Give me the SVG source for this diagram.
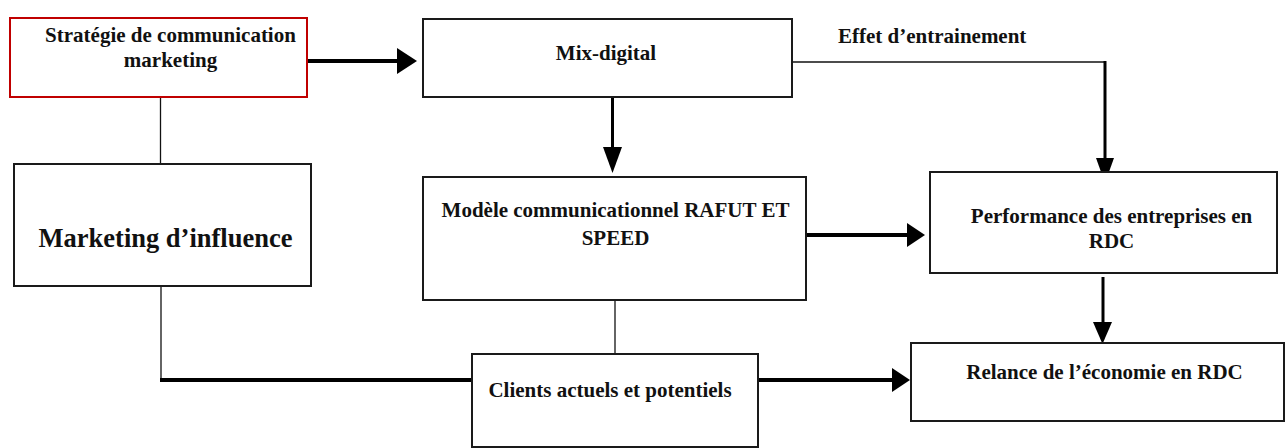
<svg xmlns="http://www.w3.org/2000/svg" width="1285" height="448" viewBox="0 0 1285 448">
<style>
.box{fill:#fff;stroke:#1a1a1a;stroke-width:2}
.red{fill:#fff;stroke:#c00000;stroke-width:2}
.t{font-family:"Liberation Serif","Times New Roman",serif;font-weight:bold;font-size:21px;fill:#111;text-anchor:middle}
.big{font-size:26.5px}
.thin{fill:none;stroke:#111;stroke-width:1.3}
.thick{fill:none;stroke:#000;stroke-width:4}
.mid{fill:none;stroke:#000;stroke-width:3}
.head{fill:#000}
</style>
<rect width="1285" height="448" fill="#fff"/>
<g id="connectors">
<line class="thick" x1="308" y1="61" x2="399" y2="61"/>
<polygon class="head" points="397,48 417,61 397,74"/>
<line class="mid" x1="612.5" y1="97" x2="612.5" y2="149"/>
<polygon class="head" points="603,147 622,147 612.5,173"/>
<polyline class="thin" points="792,62 1105,62"/>
<line class="mid" x1="1105" y1="61" x2="1105" y2="160"/>
<polygon class="head" points="1096,158 1114,158 1105,183"/>
<line class="thick" x1="807" y1="235" x2="909" y2="235"/>
<polygon class="head" points="907,223 925,235 907,247"/>
<line class="mid" x1="1103" y1="277" x2="1103" y2="324"/>
<polygon class="head" points="1093,322 1112,322 1102.5,344"/>
<line class="thick" x1="758" y1="380" x2="894" y2="380"/>
<polygon class="head" points="892,368 910,380 892,392"/>
<line class="thin" x1="160.5" y1="97" x2="160.5" y2="164"/>
<polyline class="thin" points="161,286 161,380"/>
<line class="thick" x1="160" y1="380" x2="472" y2="380"/>
<line class="thin" x1="615" y1="300" x2="615" y2="354"/>
</g>
<g id="n-strategie">
<rect class="red" x="10" y="18" width="297" height="79"/>
<text class="t" x="170.5" y="42">Stratégie de communication</text>
<text class="t" x="170.5" y="67">marketing</text>
</g>
<g id="n-mix">
<rect class="box" x="423" y="19" width="369" height="78"/>
<text class="t" x="606" y="60">Mix-digital</text>
</g>
<g id="n-influence">
<rect class="box" x="14" y="164" width="297" height="122"/>
<text class="t big" x="165.5" y="247">Marketing d’influence</text>
</g>
<g id="n-modele">
<rect class="box" x="423" y="177" width="383" height="123"/>
<text class="t" x="615.5" y="217">Modèle communicationnel RAFUT ET</text>
<text class="t" x="615.5" y="245">SPEED</text>
</g>
<g id="n-performance">
<rect class="box" x="930" y="172" width="347" height="101"/>
<text class="t" x="1111.5" y="223">Performance des entreprises en</text>
<text class="t" x="1111.5" y="248">RDC</text>
</g>
<g id="n-clients">
<rect class="box" x="472" y="354" width="286" height="93"/>
<text class="t" x="610" y="397">Clients actuels et potentiels</text>
</g>
<g id="n-relance">
<rect class="box" x="911" y="343" width="373" height="78"/>
<text class="t" x="1104.5" y="379">Relance de l’économie en RDC</text>
</g>
<g id="label-effet">
<text class="t" x="838" y="43" style="text-anchor:start">Effet d’entrainement</text>
</g>
</svg>
